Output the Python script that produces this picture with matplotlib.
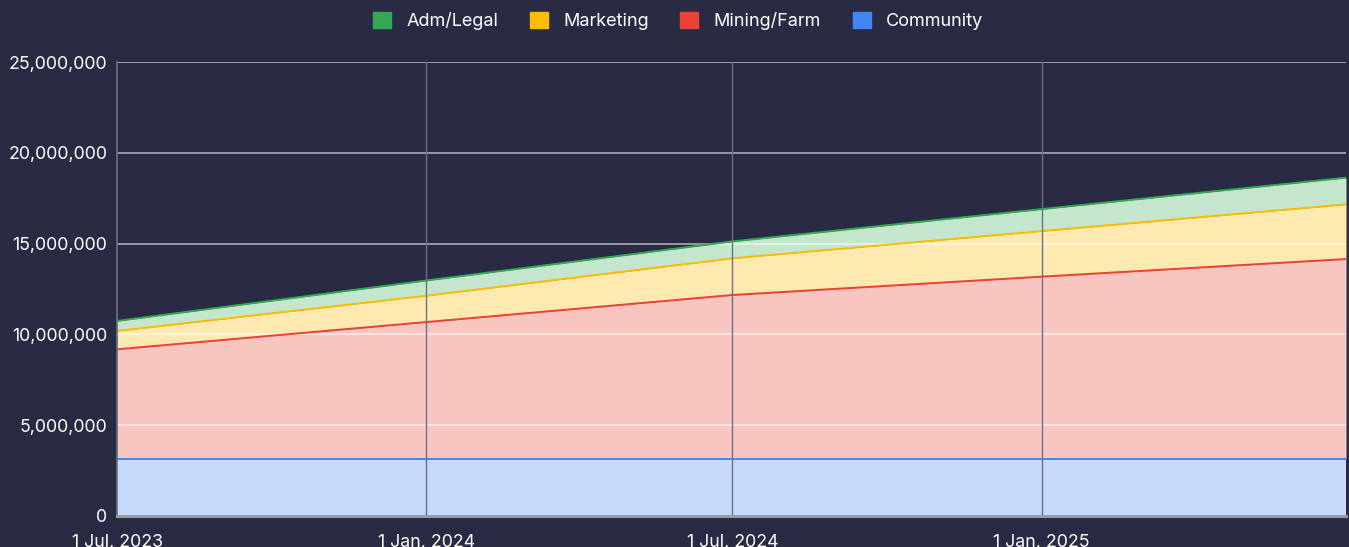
import matplotlib
matplotlib.use("Agg")
import matplotlib.pyplot as plt
import matplotlib.dates as mdates
from matplotlib.patches import Patch
from matplotlib.ticker import FuncFormatter, MultipleLocator
import numpy as np
import datetime as dt

dates = [dt.date(2023, 7, 1), dt.date(2024, 1, 1), dt.date(2024, 7, 1), dt.date(2025, 1, 1), dt.date(2025, 7, 1)]
community = [3_140_000, 3_140_000, 3_140_000, 3_140_000, 3_140_000]
mining_farm = [6_040_000, 7_540_000, 9_030_000, 10_040_000, 11_010_000]
marketing = [1_010_000, 1_450_000, 2_020_000, 2_510_000, 3_010_000]
adm_legal = [550_000, 840_000, 930_000, 1_210_000, 1_470_000]

series_names = ["Community", "Mining/Farm", "Marketing", "Adm/Legal"]
line_colors = ["#4285f4", "#ea4335", "#fbbc04", "#34a853"]
fill_colors = ["#c6dafc", "#f8c5c1", "#feeab0", "#c3e6cc"]
xtick_dates = [dt.date(2023, 7, 1), dt.date(2024, 1, 1), dt.date(2024, 7, 1), dt.date(2025, 1, 1)]
xtick_labels = ["1 Jul, 2023", "1 Jan, 2024", "1 Jul, 2024", "1 Jan, 2025"]

BG = "#292a44"
plt.rcParams['font.family'] = ['Inter', 'DejaVu Sans']

fig = plt.figure(figsize=(13.49, 5.47), dpi=100, facecolor=BG)
ax = fig.add_axes([117/1349, 31/547, (1346-117)/1349, (516-62)/547])
ax.set_facecolor(BG)

x = mdates.date2num(dates)
stack = [community, mining_farm, marketing, adm_legal]
base = np.zeros(len(x))
for vals, lc, fc in zip(stack, line_colors, fill_colors):
    top = base + np.array(vals, dtype=float)
    ax.fill_between(x, base, top, color=fc, linewidth=0, zorder=1)
    ax.plot(x, top, color=lc, linewidth=1.4, zorder=3)
    base = top

ax.set_xlim(x[0], x[-1])
ax.set_ylim(0, 25_000_000)
ax.yaxis.set_major_locator(MultipleLocator(5_000_000))
ax.yaxis.set_major_formatter(FuncFormatter(lambda v, p: f"{int(v):,}"))
ax.set_xticks(mdates.date2num(xtick_dates))
ax.set_xticklabels(xtick_labels)

for yv in range(5_000_000, 25_000_001, 5_000_000):
    ax.axhline(yv, color="white", alpha=0.55 if yv < 25_000_000 else 0.6, linewidth=1.3, zorder=2)
for xd in xtick_dates[1:]:
    ax.axvline(mdates.date2num(xd), color="#6e7183", linewidth=1.0, zorder=4)

for s in ["top", "right"]:
    ax.spines[s].set_visible(False)
ax.spines["left"].set_color("#6e7183")
ax.spines["left"].set_linewidth(1.2)
ax.spines["left"].set_zorder(4)
ax.spines["bottom"].set_color("#9a9ba8")
ax.spines["bottom"].set_linewidth(2.2)
ax.spines["bottom"].set_zorder(5)

ax.tick_params(axis="both", length=0, colors="white", labelsize=12.8)
ax.tick_params(axis="y", pad=7)
ax.tick_params(axis="x", pad=13)

handles = [Patch(facecolor=c, edgecolor=c) for c in ["#34a853", "#fbbc04", "#ea4335", "#4285f4"]]
labels = ["Adm/Legal", "Marketing", "Mining/Farm", "Community"]
fig.legend(handles, labels, loc="center", bbox_to_anchor=(678/1349, 1 - 21/547), ncol=4,
           frameon=False, labelcolor="white", fontsize=13, handlelength=1.0, handleheight=1.05,
           handletextpad=0.85, columnspacing=1.75)

fig.savefig("out.png", dpi=100, facecolor=BG)
